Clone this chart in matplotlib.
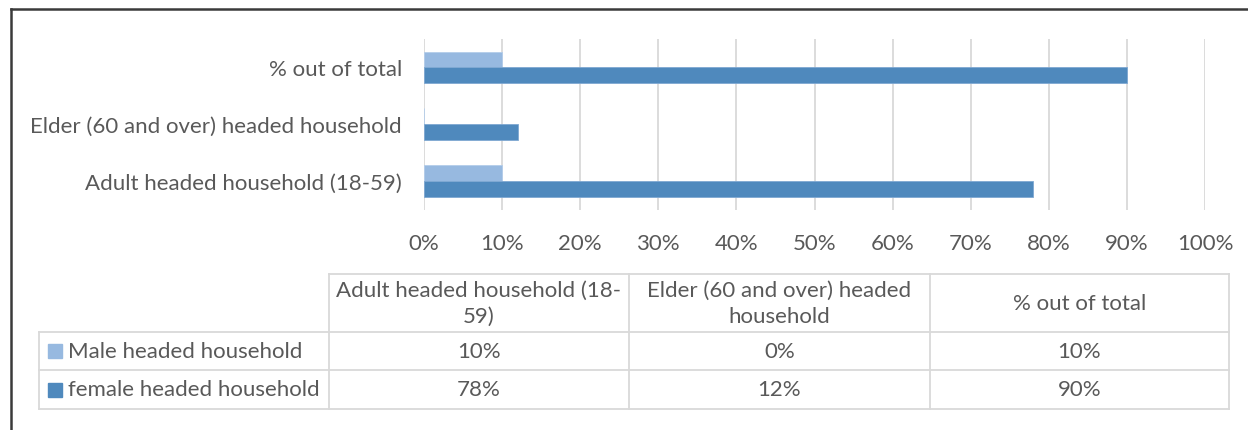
import matplotlib.pyplot as plt
import numpy as np

categories = ["Adult headed household (18-59)", "Elder (60 and over) headed household", "% out of total"]
header_labels = ["Adult headed household (18-\n59)", "Elder (60 and over) headed\nhousehold", "% out of total"]
series_names = ["Male headed household", "female headed household"]
male = [10, 0, 10]
female = [78, 12, 90]
ticks = np.arange(0, 101, 10)

male_color = "#97B9E0"
female_color = "#4F89BD"
text_color = "#595959"
grid_color = "#D9D9D9"

plt.rcParams["font.family"] = ["Lato", "DejaVu Sans"]
fs = 16

W, H = 1248, 431
fig = plt.figure(figsize=(W / 100, H / 100), dpi=100)

ax = fig.add_axes([424 / W, (H - 210.5) / H, (1205 - 424) / W, (210.5 - 40) / H])
y = np.arange(len(categories))
h = 0.28
ax.barh(y + h / 2, male, height=h, color=male_color, edgecolor="#B4CDEA", linewidth=0.6, zorder=3)
ax.barh(y - h / 2, female, height=h, color=female_color, edgecolor="#7FA8D2", linewidth=0.6, zorder=3)
ax.set_xlim(0, 100)
ax.set_ylim(-0.5, len(categories) - 0.5)
ax.set_xticks(ticks)
ax.set_xticklabels([f"{t}%" for t in ticks])
ax.set_yticks(y)
ax.set_yticklabels(categories)
ax.tick_params(axis="both", length=0, colors=text_color, labelsize=fs)
ax.tick_params(axis="x", pad=17)
ax.tick_params(axis="y", pad=16)
ax.grid(axis="x", color=grid_color, linewidth=1.3, zorder=0)
for s in ax.spines.values():
    s.set_visible(False)

# overlay in pixel coordinates for the data table and the frame
ov = fig.add_axes([0, 0, 1, 1], zorder=5)
ov.set_xlim(0, W)
ov.set_ylim(H, 0)
ov.axis("off")
ov.patch.set_visible(False)

# frame (top and left edges visible)
ov.plot([11, W], [10, 10], color="#3A3A3A", linewidth=1.8)
ov.plot([11, 11], [10, H], color="#3A3A3A", linewidth=1.8)

col_x = [39, 329, 629, 930, 1229]
row_y = [275, 333, 371, 410]
lw = 1.3
ov.plot([col_x[1], col_x[-1]], [row_y[0]] * 2, color=grid_color, lw=lw)
for ry in row_y[1:]:
    ov.plot([col_x[0], col_x[-1]], [ry] * 2, color=grid_color, lw=lw)
ov.plot([col_x[0]] * 2, [row_y[1], row_y[-1]], color=grid_color, lw=lw)
for cx in col_x[1:]:
    ov.plot([cx] * 2, [row_y[0], row_y[-1]], color=grid_color, lw=lw)

for i, lab in enumerate(header_labels):
    cx = (col_x[i + 1] + col_x[i + 2]) / 2
    ov.text(cx, (row_y[0] + row_y[1]) / 2, lab, ha="center", va="center",
            fontsize=fs, color=text_color, linespacing=1.4)

rows = [male, female]
colors = [male_color, female_color]
for r, (name, vals, c) in enumerate(zip(series_names, rows, colors)):
    cy = (row_y[r + 1] + row_y[r + 2]) / 2
    ov.add_patch(plt.Rectangle((48, cy - 7), 14, 14, color=c))
    ov.text(68, cy, name, ha="left", va="center", fontsize=fs, color=text_color)
    for i, v in enumerate(vals):
        cx = (col_x[i + 1] + col_x[i + 2]) / 2
        ov.text(cx, cy, f"{v}%", ha="center", va="center", fontsize=fs, color=text_color)

fig.savefig("out.png", dpi=100)
